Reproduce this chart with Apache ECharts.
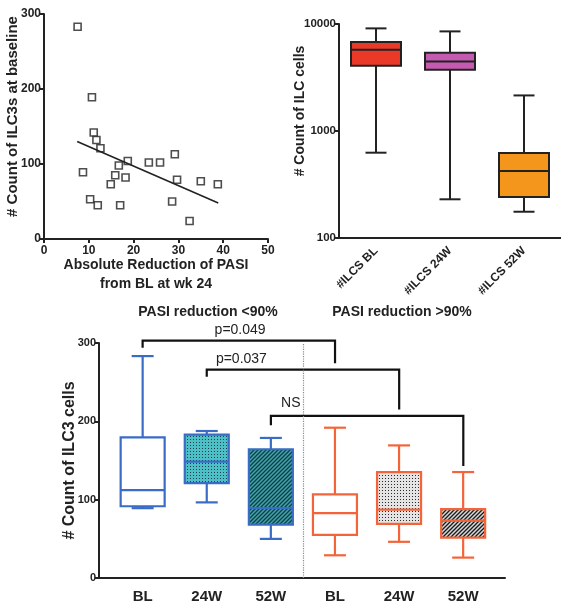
<!DOCTYPE html>
<html>
<head>
<meta charset="utf-8">
<script src="https://cdn.jsdelivr.net/npm/echarts@6/dist/echarts.min.js"></script>
<style>
html,body{margin:0;padding:0;background:#fff;}
#main{width:561px;height:604px;}
</style>
</head>
<body>
<div id="main"></div>
<script>
// ---- data ----
// scatter: absolute PASI reduction vs ILC3 count at baseline
var pasiReduction = [7.5, 10.7, 11.1, 11.7, 12.6, 8.7, 10.3, 12.0, 14.9, 15.9, 16.7, 18.7, 18.2, 17.0, 23.4, 25.9, 29.2, 29.7, 28.6, 32.5, 35.0, 38.8];
var ilc3Baseline  = [283, 189, 142, 132, 121, 89, 53, 45, 73, 85, 98, 104, 82, 45, 102, 102, 113, 79, 50, 24, 77, 73];
var fitX = [7.4, 38.9];
var fitY = [130, 48];

// ILC counts over time (log scale) [min, q1, median, q3, max]
var ilcCategories = ['#ILCS BL', '#ILCS 24W', '#ILCS 52W'];
var ilcBoxes = [
  [627, 4070, 5750, 6790, 9100],
  [230, 3740, 4470, 5400, 8530],
  [176, 241, 423, 622, 2150]
];

// ILC3 by PASI response group [min, q1, median, q3, max]
var groupCategories = ['BL', '24W', '52W', 'BL', '24W', '52W'];
var ilc3Boxes = [
  [85.5, 88, 109, 177.5, 283],
  [93, 118, 146, 181, 185.7],
  [45.6, 64, 85.5, 162, 176.7],
  [24.3, 50.7, 79, 103.5, 190],
  [41.8, 65, 83.5, 132.4, 167],
  [21.3, 47.3, 69.4, 84.3, 132.4]
];
// comparisons: [fromIndex, toIndex, barValue, leftEnd, rightEnd]
var brackets = [
  [0, 3, 303, 294, 274],
  [1, 4, 266, 257, 215],
  [2, 5, 207, 195, 143]
];
var bracketLabels = ['p=0.049', 'p=0.037', 'NS'];
// label anchors in axis units (category index, value)
var bracketLabelPos = [[1.52, 316], [1.54, 279], [2.31, 223]];

// ---- patterns ----
function dots(bg, fg) {
  var c = document.createElement('canvas');
  c.width = 3; c.height = 3;
  var g = c.getContext('2d');
  g.fillStyle = bg; g.fillRect(0, 0, 3, 3);
  g.fillStyle = fg; g.fillRect(1, 1, 1, 1);
  return {image: c, repeat: 'repeat'};
}
function stripes(bg, fg) {
  var c = document.createElement('canvas');
  c.width = 4; c.height = 4;
  var g = c.getContext('2d');
  g.fillStyle = bg; g.fillRect(0, 0, 4, 4);
  g.strokeStyle = fg; g.lineWidth = 1.3;
  g.beginPath();
  g.moveTo(-1, 5); g.lineTo(5, -1);
  g.moveTo(-1, 1); g.lineTo(1, -1);
  g.moveTo(3, 5); g.lineTo(5, 3);
  g.stroke();
  return {image: c, repeat: 'repeat'};
}

var blue = '#3a6cc6';
var orange = '#f4643a';
var fills = ['#ffffff', dots('#4cc0c4', '#1d3f55'), stripes('#3aa7ab', '#173a48'),
             '#ffffff', dots('#e4e4e4', '#2a2a2a'), stripes('#d8d8d8', '#1a1a1a')];
var borders = [blue, blue, blue, orange, orange, orange];
var ilcColors = ['#ea3a27', '#c45bb0', '#f5961c'];

var FONT = 'Liberation Sans';
var axisLineStyle = {color: '#222', width: 2};
function txt(size) { return {color: '#222', fontFamily: FONT, fontWeight: 'bold', fontSize: size}; }

// box + whisker drawn through the axes; caps narrower than the box
function boxRenderer(boxW, capW, fillOf, strokeOf, lw) {
  return function (params, api) {
    var i = api.value(0);
    var pMin = api.coord([i, api.value(1)]);
    var pQ1 = api.coord([i, api.value(2)]);
    var pMed = api.coord([i, api.value(3)]);
    var pQ3 = api.coord([i, api.value(4)]);
    var pMax = api.coord([i, api.value(5)]);
    var x = pMin[0];
    var s = {stroke: strokeOf(params.dataIndex), lineWidth: lw, fill: null};
    return {
      type: 'group',
      children: [
        {type: 'line', shape: {x1: x, y1: pQ3[1], x2: x, y2: pMax[1]}, style: s},
        {type: 'line', shape: {x1: x, y1: pQ1[1], x2: x, y2: pMin[1]}, style: s},
        {type: 'line', shape: {x1: x - capW / 2, y1: pMax[1], x2: x + capW / 2, y2: pMax[1]}, style: s},
        {type: 'line', shape: {x1: x - capW / 2, y1: pMin[1], x2: x + capW / 2, y2: pMin[1]}, style: s},
        {type: 'rect', shape: {x: x - boxW / 2, y: pQ3[1], width: boxW, height: pQ1[1] - pQ3[1]},
          style: {fill: fillOf(params.dataIndex), stroke: strokeOf(params.dataIndex), lineWidth: lw}},
        {type: 'line', shape: {x1: x - boxW / 2, y1: pMed[1], x2: x + boxW / 2, y2: pMed[1]}, style: s}
      ]
    };
  };
}

var myChart = echarts.init(document.getElementById('main'));

var option = {
  animation: false,
  backgroundColor: '#fff',
  grid: [
    {left: 44, top: 14, width: 224, height: 225},
    {left: 339, top: 24, width: 227, height: 214},
    {left: 110.6, top: 343, width: 384.6, height: 235},
    {left: 99, top: 343, width: 406, height: 235}
  ],
  xAxis: [
    {
      gridIndex: 0, type: 'value', min: 0, max: 50, interval: 10,
      name: 'Absolute Reduction of PASI\nfrom BL at wk 24', nameLocation: 'middle', nameGap: 17,
      nameMoveOverlap: false,
      nameTextStyle: Object.assign(txt(14), {lineHeight: 19, verticalAlign: 'top'}),
      axisLine: {lineStyle: axisLineStyle}, axisTick: {length: 4, lineStyle: axisLineStyle},
      axisLabel: Object.assign(txt(12), {margin: 6}), splitLine: {show: false}
    },
    {
      gridIndex: 1, type: 'category', data: ilcCategories,
      axisLine: {lineStyle: axisLineStyle},
      axisTick: {alignWithLabel: true, length: 5, lineStyle: axisLineStyle},
      axisLabel: Object.assign(txt(12), {rotate: 45, margin: 11})
    },
    {
      gridIndex: 2, type: 'category', data: groupCategories,
      axisLine: {show: false},
      axisTick: {alignWithLabel: true, length: 5, lineStyle: axisLineStyle},
      axisLabel: Object.assign(txt(15), {margin: 15})
    },
    {
      gridIndex: 3, type: 'value', min: -0.68, max: 5.65,
      axisLine: {onZero: false, lineStyle: axisLineStyle}, axisTick: {show: false},
      axisLabel: {show: false}, splitLine: {show: false}
    }
  ],
  yAxis: [
    {
      gridIndex: 0, type: 'value', min: 0, max: 300, interval: 100,
      name: '# Count of ILC3s at baseline', nameLocation: 'middle', nameGap: 24,
      nameMoveOverlap: false,
      nameTextStyle: Object.assign(txt(15), {padding: [0, 0, 0, 20]}),
      axisLine: {show: true, onZero: false, lineStyle: axisLineStyle}, axisTick: {show: true, length: 4, lineStyle: axisLineStyle},
      axisLabel: Object.assign(txt(12), {margin: 3}), splitLine: {show: false}
    },
    {
      gridIndex: 1, type: 'log', logBase: 10, min: 100, max: 10000,
      name: '# Count of ILC cells', nameLocation: 'middle', nameGap: 32,
      nameMoveOverlap: false,
      nameTextStyle: Object.assign(txt(14), {padding: [0, 0, 0, 40]}),
      axisLine: {show: true, onZero: false, lineStyle: axisLineStyle}, axisTick: {show: true, length: 4, lineStyle: axisLineStyle},
      axisLabel: Object.assign(txt(11.5), {margin: 3, formatter: function (v) { return String(v); }}),
      splitLine: {show: false}
    },
    {
      gridIndex: 2, type: 'value', min: 0, max: 300, show: false
    },
    {
      gridIndex: 3, type: 'value', min: 0, max: 300, interval: 100,
      name: '# Count of ILC3 cells', nameLocation: 'middle', nameGap: 21,
      nameMoveOverlap: false,
      nameTextStyle: txt(16),
      axisLine: {show: true, onZero: false, lineStyle: axisLineStyle}, axisTick: {show: true, length: 4, lineStyle: axisLineStyle},
      axisLabel: Object.assign(txt(11), {margin: 3}), splitLine: {show: false}
    }
  ],
  graphic: [
    {type: 'text', x: 208, y: 312, style: {text: 'PASI reduction <90%', align: 'center', verticalAlign: 'middle', fill: '#222', font: 'bold 14px "' + FONT + '"'}},
    {type: 'text', x: 402, y: 312, style: {text: 'PASI reduction >90%', align: 'center', verticalAlign: 'middle', fill: '#222', font: 'bold 14px "' + FONT + '"'}}
  ],
  series: [
    {
      type: 'scatter', xAxisIndex: 0, yAxisIndex: 0,
      symbol: 'rect', symbolSize: 7,
      itemStyle: {color: '#fff', borderColor: '#222', borderWidth: 1.6},
      data: pasiReduction.map(function (x, i) { return [x, ilc3Baseline[i]]; })
    },
    {
      type: 'line', xAxisIndex: 0, yAxisIndex: 0, symbol: 'none',
      lineStyle: {color: '#222', width: 1.6},
      data: fitX.map(function (x, i) { return [x, fitY[i]]; })
    },
    {
      type: 'custom', xAxisIndex: 1, yAxisIndex: 1,
      encode: {x: 0, y: [1, 2, 3, 4, 5]},
      data: ilcBoxes.map(function (b, i) { return [i].concat(b); }),
      renderItem: boxRenderer(50, 21, function (i) { return ilcColors[i]; }, function () { return '#222'; }, 2)
    },
    {
      type: 'custom', xAxisIndex: 2, yAxisIndex: 2,
      encode: {x: 0, y: [1, 2, 3, 4, 5]},
      data: ilc3Boxes.map(function (b, i) { return [i].concat(b); }),
      renderItem: boxRenderer(44, 22, function (i) { return fills[i]; }, function (i) { return borders[i]; }, 2.2)
    },
    {
      type: 'custom', xAxisIndex: 3, yAxisIndex: 3, clip: false,
      data: brackets,
      renderItem: function (params, api) {
        var a = api.coord([api.value(0), api.value(3)]);
        var b = api.coord([api.value(0), api.value(2)]);
        var c = api.coord([api.value(1), api.value(2)]);
        var d = api.coord([api.value(1), api.value(4)]);
        return {
          type: 'polyline',
          shape: {points: [a, b, c, d]},
          style: {stroke: '#111', lineWidth: 2.2, fill: null}
        };
      },
      markLine: {
        silent: true, symbol: 'none',
        lineStyle: {color: '#6f8fae', type: 'dotted', width: 1.2},
        label: {show: false},
        data: [{xAxis: 2.5}]
      }
    },
    {
      type: 'custom', xAxisIndex: 3, yAxisIndex: 3, clip: false,
      data: bracketLabelPos,
      renderItem: function (params, api) {
        var p = api.coord([api.value(0), api.value(1)]);
        return {
          type: 'text', x: p[0], y: p[1],
          style: {text: bracketLabels[params.dataIndex], align: 'center', verticalAlign: 'middle',
                  fill: '#222', font: '14px "' + FONT + '"'}
        };
      }
    }
  ]
};

myChart.setOption(option, true);
</script>
</body>
</html>
